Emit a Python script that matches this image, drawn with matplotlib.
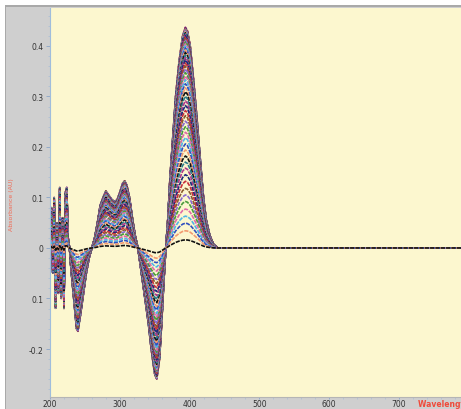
import matplotlib
matplotlib.use("Agg")
import matplotlib.pyplot as plt
from matplotlib.ticker import MultipleLocator, FixedLocator, FixedFormatter
from matplotlib.patches import Rectangle
import numpy as np

# Difference spectrum of the final scan (nm, AU)
wavelength = [200, 202, 204, 206, 208, 210, 212, 214, 216, 218, 220, 222, 224,
              226, 228, 230, 234, 238, 240, 244, 248, 252, 256, 260, 264, 268,
              272, 276, 280, 284, 288, 292, 296, 300, 304, 307, 310, 314, 318,
              322, 326, 331, 336, 341, 345, 350, 353, 357, 360, 363, 366, 369,
              372, 376, 380, 385, 390, 394, 397, 401, 406, 411, 416, 420, 424,
              429, 434, 440, 500, 600, 700, 800]
final_scan = [0.00, 0.08, -0.05, 0.10, -0.12, 0.05, -0.09, 0.12, -0.10, 0.06,
              -0.12, 0.11, 0.12, 0.02, 0.00, -0.04, -0.10, -0.16, -0.165, -0.13,
              -0.09, -0.05, -0.02, 0.00, 0.02, 0.05, 0.085, 0.10, 0.113, 0.105,
              0.097, 0.092, 0.095, 0.11, 0.128, 0.133, 0.125, 0.10, 0.06, 0.025,
              0.00, -0.05, -0.10, -0.15, -0.20, -0.25, -0.26, -0.22, -0.15,
              -0.07, 0.00, 0.06, 0.14, 0.22, 0.30, 0.37, 0.42, 0.437, 0.43,
              0.40, 0.33, 0.25, 0.165, 0.10, 0.055, 0.025, 0.008, 0.00, 0.00,
              0.00, 0.00, 0.00]

# Absorbance at the 395 nm maximum for each successive scan
peak_395 = [0.016, 0.034, 0.049, 0.063, 0.077, 0.092, 0.105, 0.118, 0.132,
            0.145, 0.158, 0.170, 0.182, 0.194, 0.206, 0.218, 0.229, 0.240,
            0.251, 0.262, 0.272, 0.282, 0.291, 0.300, 0.309, 0.317, 0.325,
            0.333, 0.340, 0.347, 0.354, 0.360, 0.366, 0.372, 0.377, 0.382,
            0.387, 0.392, 0.396, 0.400, 0.404, 0.408, 0.411, 0.414, 0.417,
            0.420, 0.422, 0.424, 0.426, 0.428, 0.429, 0.430, 0.431, 0.432,
            0.433, 0.434, 0.435, 0.436, 0.437]

ytick_values = [0.4, 0.3, 0.2, 0.1, 0.0, -0.1, -0.2]
ytick_labels = ["0.4", "0.3", "0.2", "0.1", "0", "0.1", "-0.2"]
xtick_values = [200, 300, 400, 500, 600, 700]
xtick_labels = ["200", "300", "400", "500", "600", "700"]

palette = ["#111111", "#f29a70", "#2f4fc0", "#4fb6e6", "#e06aa8",
           "#4a9c3c", "#8a6ad0", "#8a5a30", "#c8303c", "#1c2a7a",
           "#b03a8a", "#2a7c8c"]

W, H = 461, 410
fig = plt.figure(figsize=(W / 100, H / 100), dpi=100, facecolor="#cfcfcf")

# window frame: white margin at top and left with a thin grey rule
fig.patches.append(Rectangle((0, 1 - 6 / H), 1, 6 / H, transform=fig.transFigure,
                             facecolor="white", edgecolor="none", zorder=0))
fig.patches.append(Rectangle((0, 1 - 8 / H), 1, 2 / H, transform=fig.transFigure,
                             facecolor="#a9a9a9", edgecolor="none", zorder=0))
fig.patches.append(Rectangle((0, 0), 5 / W, 1 - 6 / H, transform=fig.transFigure,
                             facecolor="white", edgecolor="none", zorder=0))
fig.patches.append(Rectangle((5 / W, 0), 1 / W, 1 - 8 / H, transform=fig.transFigure,
                             facecolor="#a9a9a9", edgecolor="none", zorder=0))

ax = fig.add_axes([50 / W, 1 - 398 / H, (W - 50) / W, (398 - 9) / H])
ax.set_facecolor("#fcf7cf")

wl = np.array(wavelength)
base = np.array(final_scan)
top = max(peak_395)
n = len(peak_395)
# largest scans first so the weaker ones stay visible on top
for i in range(n - 1, -1, -1):
    p = peak_395[i]
    ax.plot(wl, base * (p / top), color=palette[i % len(palette)],
            lw=1.2, ls=(0, (2.5, 0.7)), solid_capstyle="butt")

ax.set_xlim(200, 789)
ax.set_ylim(-0.295, 0.475)

ax.yaxis.set_major_locator(FixedLocator(ytick_values))
ax.yaxis.set_major_formatter(FixedFormatter(ytick_labels))
ax.xaxis.set_major_locator(FixedLocator(xtick_values))
ax.xaxis.set_major_formatter(FixedFormatter(xtick_labels))
ax.xaxis.set_minor_locator(MultipleLocator(20))
ax.yaxis.set_minor_locator(MultipleLocator(0.02))

ax.tick_params(axis="y", which="major", labelsize=5.5, labelcolor="#333333",
               color="#8aa6c8", length=3, width=0.6, pad=1.5)
ax.tick_params(axis="x", which="major", labelsize=5.5, labelcolor="#333333",
               color="#8aa6c8", length=1.5, width=0.6, pad=0.3, direction="out")
ax.tick_params(axis="both", which="minor", color="#a9bdd6", length=1.5, width=0.5)

for side in ("top", "right"):
    ax.spines[side].set_visible(False)
ax.spines["left"].set_color("#9fbddc")
ax.spines["left"].set_linewidth(0.8)
ax.spines["bottom"].set_color("#b5b5b5")
ax.spines["bottom"].set_linewidth(0.8)

fig.text(418 / W, 1 - 405 / H, "Wavelength (nm)", color="#f04a3a",
         fontsize=5.5, ha="left", va="center", fontweight="bold")
fig.text(12 / W, 1 - 205 / H, "Absorbance (AU)", color="#f06a55",
         fontsize=4.5, rotation=90, ha="center", va="center")

fig.savefig("out.png", dpi=100, facecolor=fig.get_facecolor())
